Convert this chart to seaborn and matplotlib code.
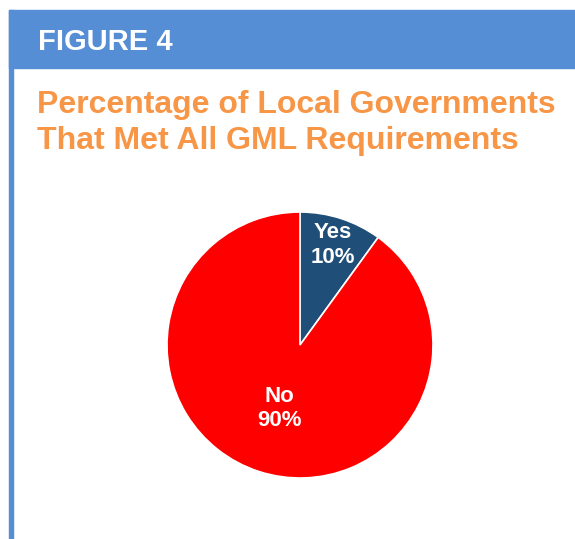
import numpy as np
import matplotlib
matplotlib.use("Agg")
import matplotlib.pyplot as plt
import seaborn as sns
from matplotlib.patches import Rectangle

categories = ["Yes", "No"]
values = [10, 90]
colors = ["#1F4E79", "#FF0000"]
label_dist = [0.79, 0.50]
title_lines = ["Percentage of Local Governments", "That Met All GML Requirements"]

sns.set_theme(style="white")
plt.rcParams['font.family'] = ['Liberation Sans', 'DejaVu Sans']

W, H = 575, 539
fig = plt.figure(figsize=(W / 100, H / 100), dpi=100)
fig.patch.set_facecolor("white")

def fx(x):
    return x / W

def fy(y):
    return 1 - y / H

blue = "#558ED5"
# header bar
fig.patches.append(Rectangle((fx(9), fy(68)), 1 - fx(9), (68 - 10) / H,
                             transform=fig.transFigure, color=blue, zorder=0))
# left vertical rule
fig.patches.append(Rectangle((fx(9), 0), 4 / W, fy(10),
                             transform=fig.transFigure, color=blue, zorder=0))

fig.text(fx(38), fy(50), "FIGURE 4", color="white", fontsize=21,
         fontweight="bold", va="baseline", ha="left")
for i, line in enumerate(title_lines):
    fig.text(fx(37), fy(113 + 35.5 * i), line, color="#F79646", fontsize=23,
             fontweight="bold", va="baseline", ha="left")

cx, cy, r = 300, 345, 133
ax = fig.add_axes([fx(cx - r), fy(cy + r), 2 * r / W, 2 * r / H])
wedges, _ = ax.pie(values, colors=colors, startangle=90, counterclock=False,
                   wedgeprops=dict(edgecolor="white", linewidth=1.2))
ax.set_aspect("auto")
ax.set_xlim(-1, 1)
ax.set_ylim(-1, 1)
ax.axis("off")

for w, cat, v, d in zip(wedges, categories, values, label_dist):
    mid = np.deg2rad((w.theta1 + w.theta2) / 2)
    ax.text(d * np.cos(mid), d * np.sin(mid), f"{cat}\n{v}%", color="white",
            fontsize=16, fontweight="bold", ha="center", va="center",
            linespacing=1.2)

fig.savefig("out.png", dpi=100)
